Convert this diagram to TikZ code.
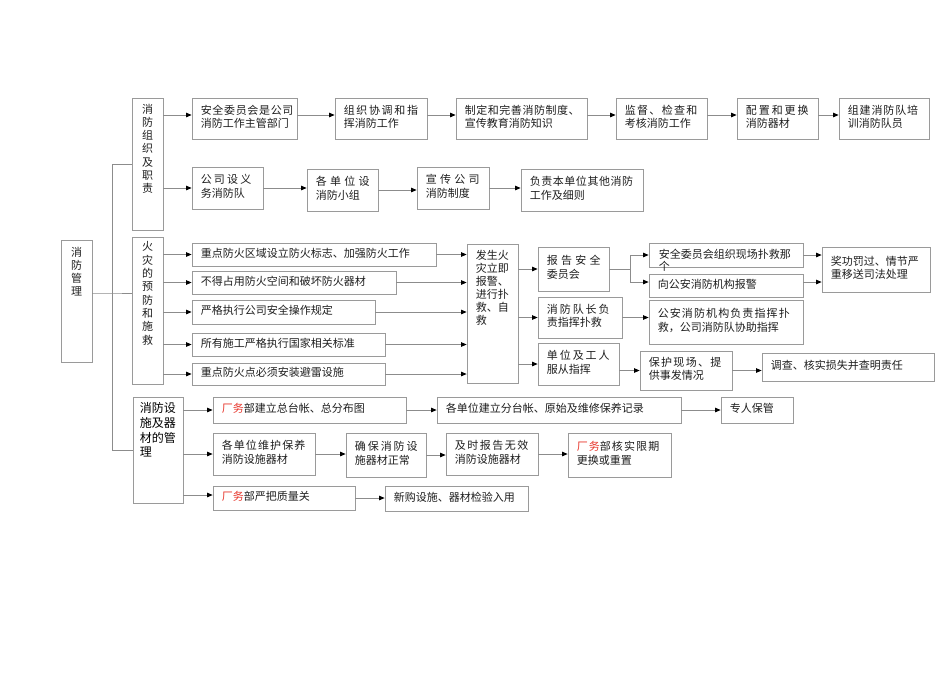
\documentclass[tikz,border=0pt]{standalone}
\usepackage{fontspec}
\setmainfont{Noto Sans CJK SC}
\usetikzlibrary{arrows.meta,fit,calc}
\definecolor{bd}{HTML}{9A9A9A}
\definecolor{ln}{HTML}{8C8C8C}
\definecolor{tx}{HTML}{1E1E1E}
\definecolor{rd}{HTML}{E8392F}
\newcommand\sps[2]{{\addfontfeature{LetterSpace=#1}#2}}
\newcommand\cw{\textcolor{rd}{厂务}}
\tikzset{
  box/.style={draw=bd, line width=0.8pt, inner sep=0pt, rectangle},
  txt/.style={inner sep=0pt, align=left, text=tx, font=\fontsize{11}{13.5}\selectfont},
  vtx/.style={inner sep=0pt, align=center, text=tx, font=\fontsize{11}{13.3}\selectfont},
  line/.style={draw=ln, line width=0.7pt},
  arr/.style={line, -{Triangle[length=5.5pt,width=4.5pt,color=black]}}
}
\newcommand\bxe[5]{\node[box, fit={(#2,#3)(#4,#5)}] (#1) {};}
\newcommand\bx[6]{\node[box, fit={(#2,#3)(#4,#5)}] (#1) {};
  \node[txt, anchor=west] (#1-t) at ($(#1.west)+(9,-1.5)$) {#6};}
\begin{document}
\begin{tikzpicture}[x=1pt,y=-1pt]
\useasboundingbox[fill=white] (0,0) rectangle (950,672);
% main and sections
\bxe{m}{61}{240}{92}{362}
\node[vtx, anchor=north] (m-t) at ($(m.north)+(0,7)$) {消\\防\\管\\理};
\bxe{s1}{132}{98}{163}{230}
\node[vtx, anchor=north] (s1-t) at ($(s1.north)+(0,6)$) {消\\防\\组\\织\\及\\职\\责};
\bxe{s2}{132}{237}{163}{384}
\node[vtx, anchor=north] (s2-t) at ($(s2.north)+(0,5)$) {火\\灾\\的\\预\\防\\和\\施\\救};
\bxe{s3}{133}{397}{183}{503}
\node[inner sep=0pt, align=left, text=black, font=\fontsize{12}{14.7}\selectfont, anchor=north west] (s3-t) at ($(s3.north west)+(7,6)$) {消防设\\施及器\\材的管\\理};
% row 1
\bx{b11}{192}{98}{297}{139}{\sps{6}{安全委员会是公司}\\消防工作主管部门}
\bx{b12}{335}{98}{427}{139}{\sps{15}{组织协调和指}\\挥消防工作}
\bx{b13}{456}{98}{587}{139}{\sps{5}{制定和完善消防制度、}\\宣传教育消防知识}
\bx{b14}{616}{98}{707}{139}{\sps{12}{监督、检查和}\\考核消防工作}
\bx{b15}{737}{98}{818}{139}{\sps{18}{配置和更换}\\消防器材}
\bx{b16}{839}{98}{929}{139}{\sps{8}{组建消防队培}\\训消防队员}
% row 2
\bx{c1}{192}{167}{263}{209}{\sps{20}{公司设义}\\务消防队}
\bx{c2}{307}{169}{378}{211}{\sps{30}{各单位设}\\消防小组}
\bx{c3}{417}{167}{489}{209}{\sps{30}{宣传公司}\\消防制度}
\bx{c4}{521}{169}{643}{211}{\sps{5}{负责本单位其他消防}\\工作及细则}
% section 2
\bx{r1}{192}{243}{436}{266}{重点防火区域设立防火标志、加强防火工作}
\bx{r2}{192}{271}{396}{294}{不得占用防火空间和破坏防火器材}
\bx{r3}{192}{300}{375}{324}{严格执行公司安全操作规定}
\bx{r4}{192}{333}{385}{356}{所有施工严格执行国家相关标准}
\bx{r5}{192}{363}{385}{385}{重点防火点必须安装避雷设施}
\bxe{fz}{467}{244}{518}{383}
\node[txt, anchor=north west, font=\fontsize{11}{13}\selectfont] (fz-t) at ($(fz.north west)+(9,6)$) {发生火\\灾立即\\报警、\\进行扑\\救、自\\救};
\bx{rp}{538}{247}{609}{291}{\sps{30}{报告安全}\\委员会}
\bx{dz}{538}{297}{622}{338}{\sps{18}{消防队长负}\\责指挥扑救}
\bx{dw}{538}{343}{619}{385}{\sps{18}{单位及工人}\\服从指挥}
\bxe{a1}{649}{243}{803}{267}
\node[txt, anchor=north west, font=\fontsize{11}{12}\selectfont] (a1-t) at ($(a1.north west)+(10,6)$) {安全委员会组织现场扑救那\\个};
\bx{a2}{649}{274}{803}{297}{向公安消防机构报警}
\bx{jl}{822}{247}{930}{292}{奖功罚过、情节严\\重移送司法处理}
\bx{ga}{649}{300}{803}{344}{\sps{10}{公安消防机构负责指挥扑}\\救，公司消防队协助指挥}
\bx{bh}{640}{351}{732}{390}{\sps{12}{保护现场、提}\\供事发情况}
\bx{dc}{762}{353}{934}{381}{调查、核实损失并查明责任}
% section 3
\bx{g1}{213}{397}{406}{423}{\cw 部建立总台帐、总分布图}
\bx{g2}{437}{397}{681}{423}{各单位建立分台帐、原始及维修保养记录}
\bx{g3}{721}{397}{793}{423}{专人保管}
\bx{h1}{213}{433}{315}{475}{\sps{10}{各单位维护保养}\\消防设施器材}
\bx{h2}{346}{433}{426}{477}{\sps{18}{确保消防设}\\施器材正常}
\bx{h3}{446}{433}{538}{475}{\sps{14}{及时报告无效}\\消防设施器材}
\bx{h4}{568}{433}{671}{477}{\sps{10}{\cw 部核实限期}\\更换或重置}
\bx{k1}{213}{486}{355}{510}{\cw 部严把质量关}
\bx{k2}{385}{486}{528}{511}{新购设施、器材检验入用}
% trunk
\coordinate (tk) at ($(m.east)+(20,-8)$);
\draw[line] ($(m.east)+(0,-8)$) -- (tk) -- (tk -| s2.west);
\draw[line] (s1.west) -| (tk) |- (s3.west);
% row 1 arrows
\draw[arr] ($(s1.east |- b11.west)+(0,-3.5)$) -- ($(b11.west)+(0,-3.5)$);
\foreach \a/\b in {b11/b12,b12/b13,b13/b14,b14/b15,b15/b16}
  \draw[arr] ($(\a.east)+(0,-3.5)$) -- ($(\b.west)+(0,-3.5)$);
% row 2 arrows
\draw[arr] (s1.east |- c1.west) -- (c1.west);
\foreach \a/\b in {c1/c2,c2/c3,c3/c4}
  \draw[arr] (\a.east) -- (\a.east -| \b.west);
% section 2 arrows
\foreach \r in {r1,r2,r3,r4,r5}{
  \draw[arr] (s2.east |- \r.west) -- (\r.west);
  \draw[arr] (\r.east) -- (\r.east -| fz.west);
}
\draw[arr] (fz.east |- rp.west) -- (rp.west);
\draw[arr] (fz.east |- dz.west) -- (dz.west);
\draw[arr] (fz.east |- dw.west) -- (dw.west);
\coordinate (fk) at ($(rp.east)+(21,0)$);
\draw[line] (rp.east) -- (fk);
\draw[arr] (fk) |- (a1.west);
\draw[arr] (fk) |- ($(a2.west)+(0,-3.5)$);
\draw[arr] (a1.east) -- (a1.east -| jl.west);
\draw[arr] ($(a2.east)+(0,-3.5)$) -- ($(a2.east -| jl.west)+(0,-3.5)$);
\draw[arr] (dz.east) -- (dz.east -| ga.west);
\draw[arr] (dw.east |- bh.west) -- (bh.west);
\draw[arr] (bh.east) -- (bh.east -| dc.west);
% section 3 arrows
\draw[arr] (s3.east |- g1.west) -- (g1.west);
\draw[arr] (g1.east) -- (g1.east -| g2.west);
\draw[arr] (g2.east) -- (g2.east -| g3.west);
\draw[arr] (s3.east |- h1.west) -- (h1.west);
\foreach \a/\b in {h1/h2,h2/h3,h3/h4}
  \draw[arr] (\a.east) -- (\a.east -| \b.west);
\draw[arr] ($(s3.east |- k1.west)+(0,-3)$) -- ($(k1.west)+(0,-3)$);
\draw[arr] (k1.east) -- (k1.east -| k2.west);
\end{tikzpicture}
\end{document}
